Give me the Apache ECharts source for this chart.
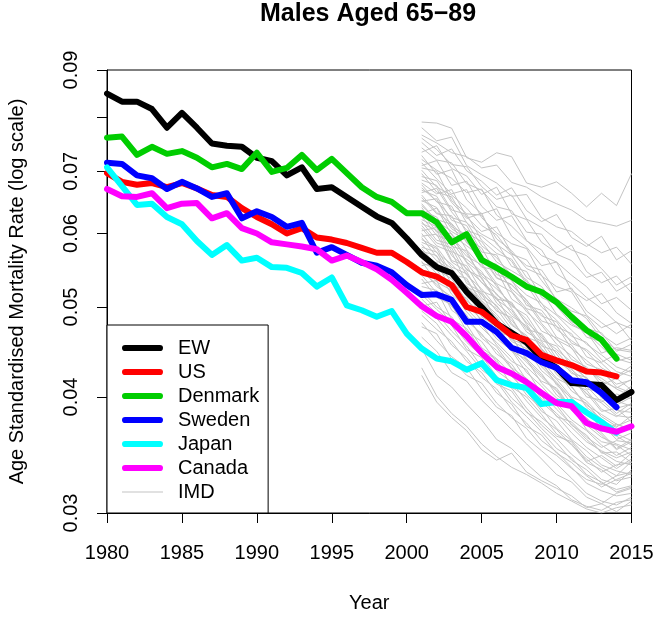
<!DOCTYPE html>
<html>
<head>
<meta charset="utf-8">
<script src="https://cdn.jsdelivr.net/npm/echarts@6/dist/echarts.min.js"></script>
<style>
  html, body { margin: 0; padding: 0; background: #fff; }
  #main { width: 655px; height: 617px; }
</style>
</head>
<body>
<div id="main"></div>
<script>
// years on the x axis
const years = [1980, 1981, 1982, 1983, 1984, 1985, 1986, 1987, 1988, 1989,
               1990, 1991, 1992, 1993, 1994, 1995, 1996, 1997, 1998, 1999,
               2000, 2001, 2002, 2003, 2004, 2005, 2006, 2007, 2008, 2009,
               2010, 2011, 2012, 2013, 2014, 2015];
const imdYears = [2001, 2002, 2003, 2004, 2005, 2006, 2007, 2008, 2009, 2010,
                  2011, 2012, 2013, 2014, 2015];

// age standardised mortality rates, 1980 onwards
const ew = [0.0849, 0.0832, 0.0832, 0.0817, 0.0780, 0.0809, 0.0780, 0.0750, 0.0746, 0.0744,
            0.0724, 0.0718, 0.0693, 0.0707, 0.0670, 0.0673, 0.0657, 0.0641, 0.0626, 0.0616,
            0.0593, 0.0569, 0.0552, 0.0544, 0.0519, 0.0500, 0.0480, 0.0469, 0.0458, 0.0440,
            0.0430, 0.0414, 0.0413, 0.0412, 0.0397, 0.0405];
const us = [0.0697, 0.0682, 0.0677, 0.0680, 0.0673, 0.0680, 0.0671, 0.0660, 0.0657, 0.0639,
            0.0625, 0.0614, 0.0600, 0.0608, 0.0594, 0.0591, 0.0586, 0.0579, 0.0572, 0.0572,
            0.0559, 0.0545, 0.0539, 0.0528, 0.0500, 0.0494, 0.0480, 0.0466, 0.0461, 0.0444,
            0.0438, 0.0433, 0.0426, 0.0425, 0.0421];
const denmark = [0.0761, 0.0763, 0.0729, 0.0744, 0.0731, 0.0736, 0.0724, 0.0707, 0.0713, 0.0704,
                 0.0733, 0.0699, 0.0706, 0.0729, 0.0702, 0.0722, 0.0697, 0.0673, 0.0657, 0.0649,
                 0.0631, 0.0631, 0.0617, 0.0587, 0.0599, 0.0562, 0.0551, 0.0539, 0.0526, 0.0519,
                 0.0506, 0.0488, 0.0472, 0.0461, 0.0440];
const sweden = [0.0715, 0.0713, 0.0693, 0.0688, 0.0670, 0.0682, 0.0671, 0.0657, 0.0663, 0.0623,
                0.0634, 0.0625, 0.0610, 0.0616, 0.0572, 0.0580, 0.0569, 0.0558, 0.0554, 0.0545,
                0.0528, 0.0515, 0.0516, 0.0509, 0.0482, 0.0482, 0.0470, 0.0452, 0.0446, 0.0436,
                0.0430, 0.0417, 0.0415, 0.0404, 0.0390];
const japan = [0.0707, 0.0675, 0.0644, 0.0646, 0.0625, 0.0614, 0.0589, 0.0569, 0.0583, 0.0561,
               0.0565, 0.0552, 0.0551, 0.0544, 0.0526, 0.0538, 0.0502, 0.0496, 0.0488, 0.0495,
               0.0468, 0.0451, 0.0440, 0.0437, 0.0428, 0.0435, 0.0417, 0.0412, 0.0409, 0.0393,
               0.0395, 0.0395, 0.0385, 0.0376, 0.0366];
const canada = [0.0670, 0.0658, 0.0657, 0.0663, 0.0639, 0.0646, 0.0647, 0.0623, 0.0631, 0.0608,
                0.0600, 0.0587, 0.0584, 0.0581, 0.0577, 0.0561, 0.0568, 0.0559, 0.0549, 0.0535,
                0.0518, 0.0501, 0.0489, 0.0482, 0.0465, 0.0446, 0.0431, 0.0424, 0.0415, 0.0404,
                0.0394, 0.0391, 0.0375, 0.0370, 0.0367, 0.0372];

// IMD areas, 2001-2015, rates per 1000
const imd = [
  [79.1, 78.9, 77.9, 72.4, 71.6, 73.3, 72.6, 68.0, 67.3, 68.2, 66.3, 64.1, 66.3, 64.3, 69.6],
  [78.0, 75.5, 76.2, 71.0, 69.4, 68.0, 65.8, 66.1, 62.4, 61.0, 60.3, 58.5, 57.2, 58.0, 55.6],
  [76.6, 75.1, 73.3, 72.6, 70.6, 71.1, 68.1, 67.3, 65.7, 64.6, 63.6, 62.0, 61.6, 61.1, 62.0],
  [76.0, 73.9, 71.2, 70.8, 67.4, 65.3, 66.0, 62.2, 60.9, 59.1, 57.6, 56.8, 55.0, 52.8, 53.9],
  [75.2, 72.8, 74.0, 70.1, 68.3, 66.0, 67.2, 63.5, 61.8, 62.9, 59.4, 58.1, 59.6, 56.2, 57.5],
  [74.2, 72.0, 71.5, 67.9, 66.8, 64.1, 63.5, 60.2, 59.9, 57.0, 56.1, 53.8, 54.5, 52.0, 53.1],
  [73.4, 74.6, 70.5, 69.2, 66.1, 67.3, 63.0, 62.1, 58.7, 57.2, 58.3, 54.6, 53.1, 54.0, 51.8],
  [72.8, 69.5, 70.3, 65.2, 63.0, 63.8, 59.6, 58.0, 55.4, 55.9, 52.1, 50.8, 51.7, 49.3, 48.0],
  [72.1, 70.2, 68.8, 66.4, 67.0, 62.8, 61.1, 58.9, 57.6, 54.3, 53.0, 51.2, 49.8, 48.1, 47.4],
  [71.5, 68.7, 66.2, 66.9, 62.4, 60.1, 58.5, 57.8, 54.0, 52.6, 51.9, 49.0, 47.5, 48.2, 46.0],
  [71.0, 71.9, 67.6, 68.3, 64.2, 62.0, 62.7, 59.0, 56.8, 55.9, 54.1, 52.6, 50.4, 51.2, 49.6],
  [70.6, 70.0, 65.1, 63.0, 62.8, 59.2, 57.5, 55.0, 54.1, 50.8, 49.5, 48.9, 46.7, 45.5, 46.3],
  [70.2, 67.3, 66.0, 63.9, 61.2, 59.8, 57.0, 56.2, 53.4, 51.0, 49.9, 48.6, 46.2, 45.0, 44.7],
  [69.6, 66.5, 65.7, 61.6, 59.9, 58.7, 55.3, 54.6, 51.2, 50.3, 48.8, 46.4, 45.9, 44.0, 43.5],
  [69.1, 68.4, 64.8, 62.3, 63.1, 58.4, 56.9, 53.8, 52.6, 50.1, 48.0, 46.9, 45.3, 43.7, 44.2],
  [68.5, 67.6, 63.6, 62.9, 59.0, 57.1, 56.3, 53.2, 52.0, 49.1, 47.8, 47.0, 44.6, 45.2, 44.9],
  [68.0, 66.2, 66.9, 62.5, 60.3, 61.0, 57.2, 55.4, 54.8, 51.9, 52.4, 49.5, 48.1, 46.8, 47.9],
  [67.7, 64.9, 64.2, 60.1, 58.8, 55.9, 54.7, 53.5, 50.4, 49.0, 47.2, 45.6, 44.4, 43.1, 42.5],
  [67.2, 65.0, 62.4, 61.7, 58.2, 56.5, 54.1, 52.8, 50.0, 48.4, 46.5, 45.8, 43.9, 42.6, 42.1],
  [66.8, 65.8, 62.0, 61.2, 57.3, 56.9, 53.3, 51.5, 50.5, 47.6, 46.8, 44.2, 43.5, 42.0, 42.8],
  [66.4, 67.1, 63.3, 60.5, 59.6, 57.8, 56.0, 52.9, 51.7, 51.1, 48.2, 47.4, 46.9, 44.8, 45.6],
  [66.0, 63.2, 61.5, 59.0, 56.4, 55.1, 52.3, 50.6, 48.0, 46.1, 45.2, 42.7, 41.9, 40.8, 40.1],
  [65.6, 63.0, 62.7, 58.6, 57.0, 53.8, 52.8, 50.9, 48.3, 47.7, 45.1, 43.8, 42.5, 41.3, 41.7],
  [65.1, 64.0, 60.7, 59.3, 57.9, 54.2, 53.5, 50.2, 49.6, 47.3, 46.0, 44.8, 43.0, 42.1, 43.2],
  [65.0, 65.4, 61.0, 59.8, 56.0, 55.6, 52.0, 49.8, 49.2, 46.4, 45.5, 43.4, 42.8, 41.0, 40.4],
  [64.6, 61.9, 60.3, 58.9, 55.7, 53.0, 51.9, 49.4, 47.8, 45.6, 44.3, 42.9, 41.6, 40.9, 41.8],
  [64.3, 62.1, 61.4, 57.6, 55.2, 54.8, 51.0, 49.7, 47.1, 46.3, 43.9, 43.1, 41.2, 41.9, 40.7],
  [64.0, 60.8, 59.5, 57.1, 54.0, 52.3, 50.4, 48.1, 46.6, 44.0, 42.8, 41.5, 40.2, 38.9, 39.3],
  [63.5, 62.5, 59.2, 56.7, 55.5, 52.6, 50.1, 49.0, 46.3, 45.0, 43.6, 41.8, 41.0, 39.6, 39.1],
  [63.3, 60.2, 60.0, 55.9, 54.3, 52.9, 49.8, 47.3, 46.8, 44.5, 42.4, 42.0, 39.9, 39.2, 40.0],
  [63.0, 63.9, 59.8, 58.2, 56.6, 53.7, 52.9, 50.8, 48.9, 48.2, 45.7, 45.0, 43.6, 44.5, 43.8],
  [62.8, 62.0, 58.1, 57.5, 53.6, 51.0, 50.6, 47.9, 45.4, 44.8, 42.9, 40.8, 40.5, 38.7, 38.5],
  [62.6, 59.7, 58.9, 55.8, 53.1, 51.7, 49.2, 47.6, 45.1, 43.4, 42.0, 40.3, 39.4, 38.2, 38.0],
  [62.1, 61.0, 57.4, 56.3, 54.6, 51.5, 50.3, 48.5, 46.0, 45.4, 43.2, 41.9, 40.6, 39.9, 41.1],
  [61.8, 59.0, 58.4, 54.8, 53.8, 50.5, 48.9, 47.7, 45.0, 43.3, 42.1, 40.0, 39.7, 38.4, 39.4],
  [61.5, 60.5, 56.1, 55.4, 52.0, 51.2, 48.0, 46.4, 45.7, 42.9, 41.7, 40.4, 38.6, 38.9, 37.6],
  [61.2, 58.6, 57.9, 54.1, 52.3, 50.0, 48.4, 46.2, 44.7, 42.3, 41.0, 39.2, 38.3, 37.4, 36.9],
  [60.8, 58.2, 57.3, 53.0, 51.9, 49.5, 48.7, 45.8, 44.0, 42.7, 40.6, 39.6, 38.1, 37.2, 37.8],
  [60.4, 60.9, 56.8, 55.0, 53.2, 50.9, 49.6, 47.0, 45.9, 43.8, 42.6, 41.1, 39.5, 40.3, 39.8],
  [60.0, 57.2, 55.6, 53.4, 50.8, 49.1, 47.0, 45.3, 43.1, 41.5, 39.8, 38.6, 37.0, 36.5, 35.9],
  [59.6, 59.9, 55.9, 54.6, 51.1, 49.8, 47.3, 46.0, 43.8, 41.9, 41.1, 39.0, 37.9, 36.8, 37.3],
  [59.4, 56.6, 55.0, 52.5, 51.7, 48.3, 47.2, 44.6, 43.7, 41.2, 39.9, 38.5, 37.4, 36.0, 36.6],
  [59.1, 58.0, 55.2, 54.3, 51.5, 50.2, 47.8, 46.6, 44.2, 43.0, 41.3, 40.7, 38.8, 38.1, 39.0],
  [58.7, 57.8, 54.2, 53.7, 50.3, 48.6, 45.9, 45.1, 42.7, 41.4, 39.3, 38.8, 36.9, 36.3, 35.5],
  [58.4, 56.1, 54.7, 51.9, 50.1, 47.4, 46.3, 44.0, 42.4, 40.2, 39.1, 37.3, 36.2, 35.6, 35.1],
  [58.0, 57.3, 53.8, 52.7, 50.6, 48.8, 46.1, 45.5, 43.3, 41.8, 40.0, 39.4, 37.7, 37.1, 38.2],
  [57.8, 55.4, 54.4, 51.3, 49.7, 47.0, 46.5, 43.8, 42.2, 40.7, 38.9, 37.6, 36.4, 35.1, 35.8],
  [57.4, 56.8, 52.9, 52.0, 48.8, 47.6, 44.8, 43.9, 41.4, 39.9, 39.0, 36.9, 35.8, 35.5, 34.6],
  [57.1, 54.9, 53.6, 50.8, 49.3, 47.9, 45.2, 43.6, 42.0, 40.6, 38.7, 37.9, 36.6, 35.2, 36.0],
  [56.6, 54.3, 53.1, 50.2, 48.5, 46.2, 44.9, 42.5, 41.1, 39.4, 37.8, 36.8, 35.5, 34.6, 35.3],
  [56.0, 53.2, 52.1, 49.4, 47.5, 45.8, 44.1, 41.7, 40.5, 38.8, 37.4, 36.0, 34.9, 34.1, 33.8],
  [55.8, 54.9, 51.6, 49.8, 47.9, 45.5, 43.7, 42.8, 40.3, 39.2, 37.3, 36.4, 34.8, 34.9, 34.0],
  [55.4, 55.9, 52.0, 51.1, 48.2, 46.9, 45.0, 43.1, 41.6, 40.9, 38.9, 38.0, 36.7, 37.4, 36.8],
  [55.0, 52.6, 51.3, 48.7, 46.6, 45.3, 43.0, 41.9, 39.8, 38.4, 37.1, 35.8, 35.0, 34.4, 34.9],
  [54.6, 52.9, 51.0, 49.0, 46.3, 44.9, 42.9, 41.4, 39.5, 38.2, 36.6, 35.3, 34.4, 33.5, 34.3],
  [54.1, 51.8, 50.1, 47.9, 45.2, 44.0, 42.3, 40.2, 38.9, 37.0, 35.9, 34.5, 33.6, 32.9, 33.2],
  [53.6, 51.2, 50.3, 47.1, 45.9, 43.6, 42.1, 40.6, 38.6, 37.7, 36.0, 35.0, 33.8, 33.3, 33.0],
  [53.0, 53.4, 49.6, 48.3, 46.8, 44.5, 43.4, 41.2, 40.1, 38.1, 37.6, 36.2, 35.3, 35.9, 35.7],
  [52.6, 52.1, 48.5, 47.4, 44.9, 43.9, 41.0, 40.0, 38.3, 36.5, 35.6, 34.0, 33.4, 32.5, 32.8],
  [52.1, 50.0, 48.8, 46.2, 44.6, 42.7, 41.5, 39.6, 38.0, 36.9, 35.5, 34.3, 33.2, 33.8, 34.0],
  [51.6, 49.7, 48.1, 45.8, 44.3, 42.1, 40.9, 38.9, 37.3, 36.1, 34.7, 33.7, 32.6, 32.2, 33.4],
  [51.0, 49.2, 47.1, 45.4, 43.1, 41.8, 39.9, 38.6, 37.0, 35.7, 34.2, 33.4, 32.3, 31.8, 32.1],
  [50.6, 48.6, 46.6, 44.8, 42.8, 41.6, 39.5, 38.1, 36.7, 35.2, 34.4, 33.0, 32.4, 31.6, 32.0],
  [50.1, 50.6, 47.8, 45.0, 44.1, 41.3, 40.6, 38.5, 37.6, 36.3, 35.8, 34.1, 34.6, 33.7, 34.8],
  [49.5, 48.0, 45.5, 44.1, 42.0, 40.8, 38.8, 37.5, 35.9, 34.9, 33.6, 32.3, 31.7, 31.3, 31.5],
  [49.0, 47.3, 45.9, 43.7, 42.5, 40.4, 39.3, 37.2, 36.4, 34.8, 34.0, 32.9, 32.0, 32.6, 33.1],
  [48.1, 46.0, 44.2, 43.0, 40.8, 39.0, 38.2, 36.1, 35.0, 33.9, 32.7, 31.5, 30.9, 30.6, 31.2],
  [47.6, 46.8, 43.9, 42.2, 41.4, 39.4, 38.0, 37.0, 35.4, 34.6, 33.5, 32.6, 32.2, 32.9, 34.1],
  [46.4, 44.8, 42.5, 41.6, 39.7, 38.3, 36.9, 35.6, 34.3, 33.0, 32.4, 31.2, 30.7, 31.5, 31.9],
  [45.1, 42.2, 41.0, 39.3, 37.8, 36.0, 35.2, 33.9, 32.8, 32.1, 31.0, 30.5, 30.2, 30.8, 31.0],
  [43.0, 40.1, 38.4, 37.2, 35.6, 34.5, 33.6, 33.0, 32.3, 31.5, 30.9, 30.3, 30.0, 30.4, 30.6],
  [42.2, 39.5, 38.0, 36.8, 35.1, 34.2, 34.8, 33.2, 32.5, 31.9, 31.3, 30.4, 30.7, 30.1, 30.9]
];

const yTicks = [0.03, 0.04, 0.05, 0.06, 0.07, 0.08, 0.09];
const yLabels = [0.03, 0.04, 0.05, 0.06, 0.07, 0.09];

const countries = [
  { name: 'EW', data: ew, color: '#000000' },
  { name: 'US', data: us, color: '#ff0000' },
  { name: 'Denmark', data: denmark, color: '#00cd00' },
  { name: 'Sweden', data: sweden, color: '#0000ff' },
  { name: 'Japan', data: japan, color: '#00ffff' },
  { name: 'Canada', data: canada, color: '#ff00ff' }
];

const font = 'Liberation Sans, Arial, sans-serif';
const thickIcon = 'path://M3,0H37A3,3 0 0 1 37,6H3A3,3 0 0 1 3,0Z';
const thinIcon = 'path://M0,0H40V1H0Z';

// y axis is drawn on the natural log of the rate (log scale)
function toPoints(xs, vs, scale) {
    return vs.map(function (v, i) { return [xs[i], Math.log(v * scale)]; });
}

let series = [];
imd.forEach(function (row) {
    series.push({
        name: 'IMD',
        type: 'line',
        symbol: 'none',
        silent: true,
        z: 1,
        color: '#c4c4c4',
        lineStyle: { width: 1, color: '#c4c4c4' },
        data: toPoints(imdYears, row, 0.001)
    });
});
countries.forEach(function (c) {
    series.push({
        name: c.name,
        type: 'line',
        symbol: 'none',
        z: 3,
        color: c.color,
        lineStyle: { width: 6, color: c.color, cap: 'round', join: 'round' },
        data: toPoints(years, c.data, 1)
    });
});

let legendData = countries.map(function (c) {
    return { name: c.name, icon: thickIcon };
});
legendData.push({ name: 'IMD', icon: thinIcon });

const chart = echarts.init(document.getElementById('main'), null, { renderer: 'canvas' });

let option = {
    animation: false,
    backgroundColor: '#ffffff',
    textStyle: { fontFamily: font, color: '#000' },
    title: {
        text: 'Males Aged 65\u221289',
        left: 368,
        top: 2,
        padding: 0,
        textAlign: 'center',
        textStyle: { fontFamily: font, fontSize: 25, fontWeight: 'bold', color: '#000' }
    },
    legend: {
        orient: 'vertical',
        left: 107,
        top: 325,
        padding: [13, 9, 11, 15],
        itemWidth: 41,
        itemHeight: 20,
        itemGap: 4,
        borderColor: '#000',
        borderWidth: 1,
        backgroundColor: '#fff',
        selectedMode: false,
        textStyle: { fontFamily: font, fontSize: 20, color: '#000', padding: [0, 0, 0, 10] },
        data: legendData
    },
    grid: {
        left: 107,
        right: 23.5,
        top: 70,
        bottom: 104,
        show: true,
        borderColor: '#000',
        borderWidth: 1,
        outerBoundsMode: 'none'
    },
    xAxis: {
        type: 'value',
        min: 1980,
        max: 2015,
        interval: 5,
        name: 'Year',
        nameLocation: 'middle',
        nameGap: 80,
        nameTextStyle: { fontFamily: font, fontSize: 20, color: '#000' },
        axisLine: { lineStyle: { color: '#000', width: 1 } },
        axisTick: { length: 10, lineStyle: { color: '#000' } },
        axisLabel: {
            fontFamily: font, fontSize: 20, color: '#000', margin: 30,
            showMinLabel: true, showMaxLabel: true,
            formatter: function (v) { return String(v); }
        },
        splitLine: { show: false }
    },
    yAxis: {
        type: 'value',
        min: Math.log(0.03),
        max: Math.log(0.09),
        name: 'Age Standardised Mortality Rate (log scale)',
        nameLocation: 'middle',
        nameGap: 80,
        nameTextStyle: { fontFamily: font, fontSize: 20, color: '#000' },
        axisLine: { show: true, lineStyle: { color: '#000', width: 1 } },
        axisTick: {
            show: true,
            length: 10,
            lineStyle: { color: '#000' },
            customValues: yTicks.map(Math.log)
        },
        axisLabel: {
            fontFamily: font,
            fontSize: 20,
            color: '#000',
            rotate: 90,
            margin: 26,
            customValues: yLabels.map(Math.log),
            formatter: function (v) { return Math.exp(v).toFixed(2); }
        },
        splitLine: { show: false }
    },
    series: series
};

chart.setOption(option);
</script>
</body>
</html>
